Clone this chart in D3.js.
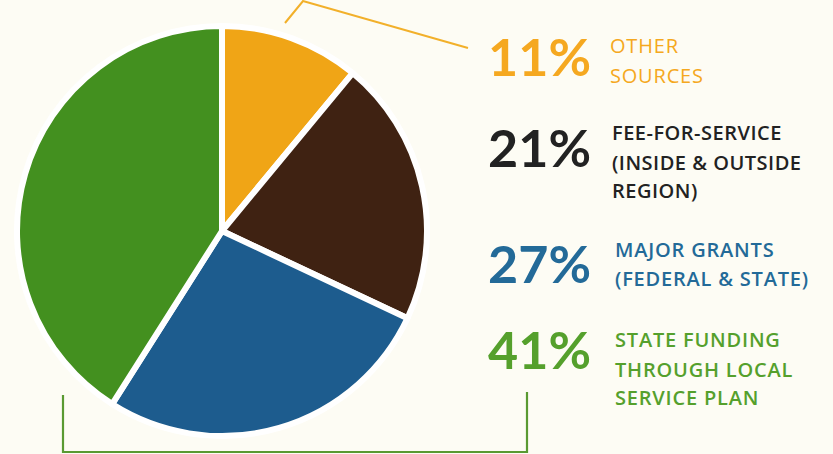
<!DOCTYPE html>
<html><head><meta charset="utf-8">
<script src="https://cdn.jsdelivr.net/npm/d3@7"></script>
<style>
html,body{margin:0;padding:0;background:#FDFCF4;}
svg{display:block;font-family:Lato,"Open Sans",sans-serif;}
</style></head>
<body><svg id="c" width="833" height="454"></svg>
<script>
const categories = ["Other Sources","Fee-for-Service","Major Grants","State Funding"];
const values = [11, 21, 27, 41];
const pctLabels = ["11%","21%","27%","41%"];
const descLines = [
  ["OTHER","SOURCES"],
  ["FEE-FOR-SERVICE","(INSIDE & OUTSIDE","REGION)"],
  ["MAJOR GRANTS","(FEDERAL & STATE)"],
  ["STATE FUNDING","THROUGH LOCAL","SERVICE PLAN"]
];
const sliceColors = ["#F0A516","#3F2212","#1D5C8E","#43901F"];
const textColors = ["#F5A820","#222222","#236A98","#55A02C"];

const svg = d3.select("#c");
const cx = 222, cy = 231, R = 205;
const pie = d3.pie().sort(null).value(d => d);
const arc = d3.arc().innerRadius(0).outerRadius(R);
const g = svg.append("g").attr("transform", `translate(${cx},${cy})`);
g.selectAll("path").data(pie(values)).join("path")
  .attr("d", arc)
  .attr("fill", (d,i) => sliceColors[i])
  .attr("stroke", "#ffffff")
  .attr("stroke-width", 6)
  .attr("stroke-linejoin", "round");

// bracket lines
svg.append("polyline")
  .attr("points", "285,23 303,1 468,48")
  .attr("fill","none").attr("stroke","#F2B02A").attr("stroke-width",2);
svg.append("polyline")
  .attr("points", "63,395 63,452 527,452 527,392")
  .attr("fill","none").attr("stroke","#5A9A32").attr("stroke-width",2.2);

// labels
const pctBase = [76, 167, 283, 369];
const descBase = [[53, 83],[140,170,198],[257,286],[347,377,405]];
const descWeight = [400, 600, 600, 600];
const descX = [610, 612, 615, 615];
const descSpacing = [0.8, 0.5, 0.8, 0.8];
pctLabels.forEach((t,i) => {
  svg.append("text").attr("x", 591).attr("y", pctBase[i])
    .attr("text-anchor","end")
    .attr("font-size", 52).attr("font-weight", 700)
    .attr("fill", textColors[i]).text(t);
  descLines[i].forEach((ln,j) => {
    svg.append("text").attr("x", descX[i]).attr("y", descBase[i][j])
      .attr("font-family", "'Open Sans', sans-serif")
      .attr("font-size", 20).attr("font-weight", descWeight[i])
      .attr("letter-spacing", descSpacing[i])
      .attr("fill", textColors[i]).text(ln);
  });
});
</script></body></html>
